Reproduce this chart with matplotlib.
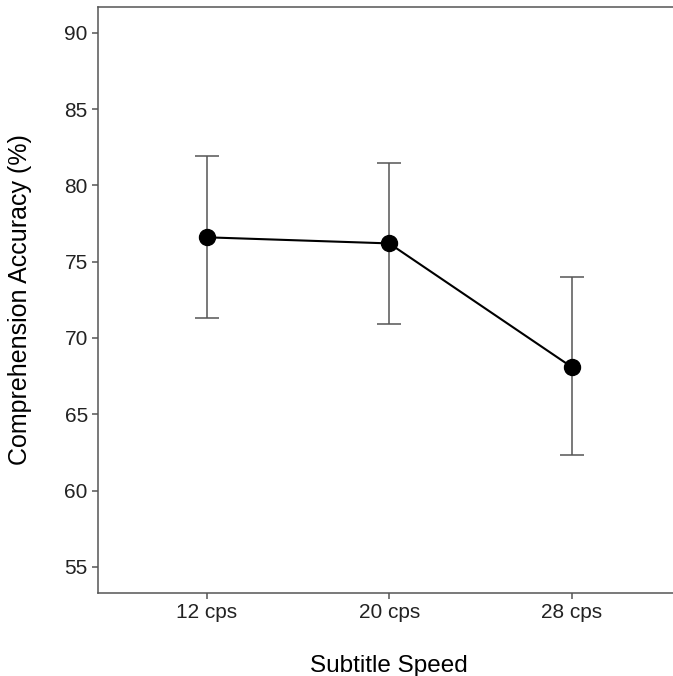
import matplotlib.pyplot as plt
import numpy as np

plt.rcParams['font.family'] = ['Liberation Sans', 'DejaVu Sans']

speeds = ["12 cps", "20 cps", "28 cps"]
accuracy = [76.6, 76.2, 68.1]
upper = [81.9, 81.5, 74.0]
lower = [71.3, 70.9, 62.3]

x = np.arange(len(speeds))
acc = np.array(accuracy)
err = [acc - np.array(lower), np.array(upper) - acc]

fig = plt.figure(figsize=(6.73, 6.76), dpi=100)
# axes runs slightly past the right edge, as in the cropped original
ax = fig.add_axes([97.5 / 673, 1 - 593 / 676, (681 - 97.5) / 673, (593 - 7) / 676])

ax.errorbar(x, acc, yerr=err, fmt="none", ecolor="#555555", elinewidth=1.1,
            capsize=8.5, capthick=1.1, zorder=2)
ax.plot(x, acc, color="black", linewidth=1.5, zorder=3)
ax.plot(x, acc, "o", color="black", markersize=11.5, zorder=4)

ax.set_xlim(-0.6, 2.6)
ax.set_ylim(53.28, 91.7)
ax.set_xticks(x)
ax.set_xticklabels(speeds)
ax.set_yticks(np.arange(55, 91, 5))

for s in ax.spines.values():
    s.set_color("#555555")
    s.set_linewidth(1.1)
ax.tick_params(colors="#555555", length=4, width=1.1, labelsize=15, labelcolor="#222222", pad=3)

ax.set_xlabel("Subtitle Speed", fontsize=17.5, color="black", labelpad=24)
ax.set_ylabel("Comprehension Accuracy (%)", fontsize=18, color="black", labelpad=23)

fig.savefig("out.png", dpi=100)
